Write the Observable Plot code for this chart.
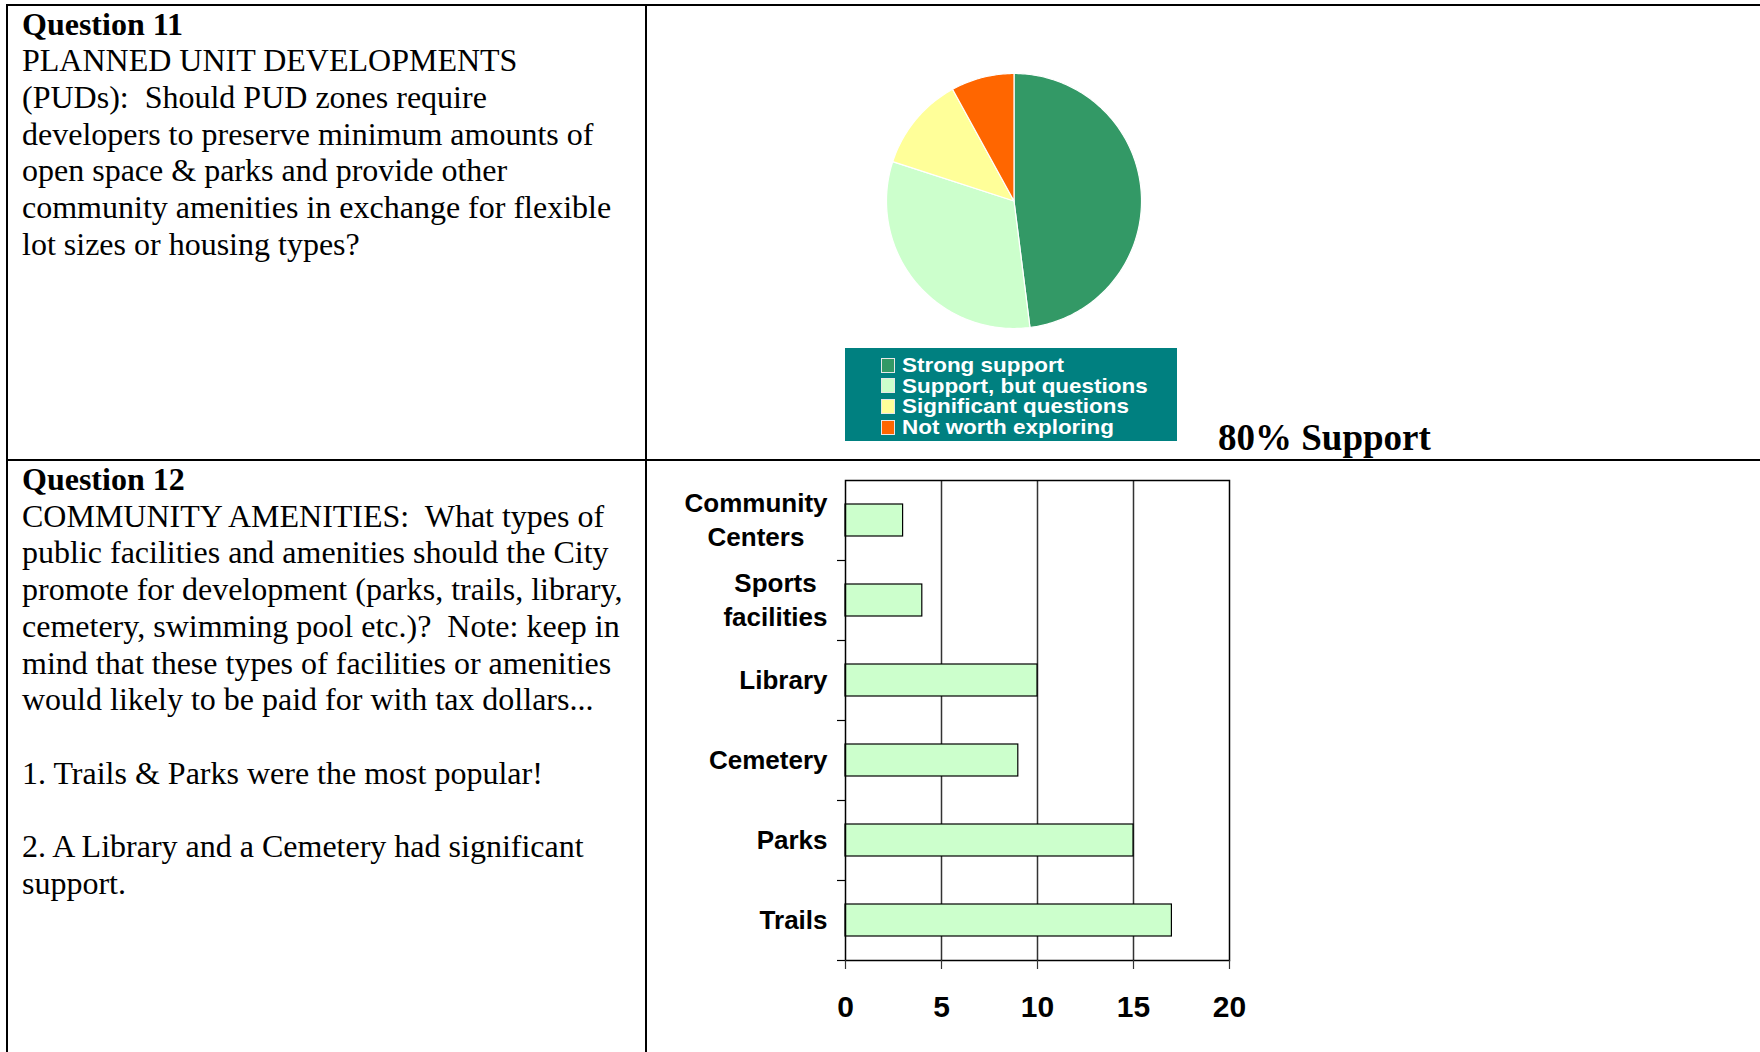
<!DOCTYPE html>
<html><head><meta charset="utf-8">
<script src="https://cdn.jsdelivr.net/npm/d3@7"></script>
<script src="https://cdn.jsdelivr.net/npm/@observablehq/plot@0.6"></script>
<style>
html,body{margin:0;padding:0;background:#fff;}
#page{position:relative;width:1760px;height:1052px;overflow:hidden;background:#fff;}
.rule{position:absolute;background:#000;}
.txt{position:absolute;left:22px;font-family:'Liberation Serif','Times New Roman',serif;font-size:32px;line-height:36.7px;white-space:pre;color:#000;}
.txt .h{font-weight:bold;}
#legend{position:absolute;left:845px;top:348px;width:332px;height:93px;background:#008080;box-sizing:border-box;padding-top:6.8px;padding-left:36px;}
#legend .row{display:flex;align-items:center;height:20.8px;font-family:'Liberation Sans',Arial,sans-serif;font-weight:bold;font-size:20.6px;line-height:20.8px;color:#fff;white-space:nowrap;}
#legend .sw{width:12px;height:13px;border:1px solid #e8e8e8;margin-right:7px;flex:none;}
#legend .lab{display:inline-block;transform:scaleX(1.09);transform-origin:left center;}
#note{position:absolute;left:1218px;top:419px;font-family:'Liberation Serif','Times New Roman',serif;font-weight:bold;font-size:37px;line-height:37px;white-space:nowrap;color:#000;}
.chart{position:absolute;}
</style></head><body><div id="page"></div>
<script>
// ---------- data ----------
const pieLabels = ["Strong support", "Support, but questions", "Significant questions", "Not worth exploring"];
const pieCounts = [12, 8, 3, 2];
const pieColors = ["#339966", "#CCFFCC", "#FFFF99", "#FF6600"];
const pieNote = "80% Support";

const barCategories = ["Community Centers", "Sports facilities", "Library", "Cemetery", "Parks", "Trails"];
const barTickLabels = ["Community\nCenters", "Sports\nfacilities", "Library", "Cemetery", "Parks", "Trails"];
const barValues = [3, 4, 10, 9, 15, 17];
const barTicks = [0, 5, 10, 15, 20];

const q11Title = "Question 11";
const q11Lines = [
  "PLANNED UNIT DEVELOPMENTS",
  "(PUDs):  Should PUD zones require",
  "developers to preserve minimum amounts of",
  "open space & parks and provide other",
  "community amenities in exchange for flexible",
  "lot sizes or housing types?"
];
const q12Title = "Question 12";
const q12Lines = [
  "COMMUNITY AMENITIES:  What types of",
  "public facilities and amenities should the City",
  "promote for development (parks, trails, library,",
  "cemetery, swimming pool etc.)?  Note: keep in",
  "mind that these types of facilities or amenities",
  "would likely to be paid for with tax dollars...",
  "",
  "1. Trails & Parks were the most popular!",
  "",
  "2. A Library and a Cemetery had significant",
  "support."
];

// ---------- layout ----------
const page = document.getElementById("page");
function rule(l, t, w, h) {
  const d = document.createElement("div");
  d.className = "rule";
  Object.assign(d.style, {left: l + "px", top: t + "px", width: w + "px", height: h + "px"});
  page.appendChild(d);
}
rule(6, 4, 1754, 2);
rule(6, 4, 2, 1048);
rule(645, 4, 2, 1048);
rule(6, 459, 1754, 2);

function textBlock(top, title, lines) {
  const d = document.createElement("div");
  d.className = "txt";
  d.style.top = top + "px";
  const h = document.createElement("span");
  h.className = "h";
  h.textContent = title;
  d.appendChild(h);
  d.appendChild(document.createTextNode("\n" + lines.join("\n")));
  page.appendChild(d);
}
textBlock(5.5, q11Title, q11Lines);
textBlock(461, q12Title, q12Lines);

// ---------- pie ----------
const arcs = d3.pie().sort(null).startAngle(0).endAngle(2 * Math.PI)(pieCounts);
const piePts = [];
arcs.forEach((a, i) => {
  const n = Math.max(2, Math.ceil((a.endAngle - a.startAngle) / (Math.PI / 180)));
  for (let k = 0; k <= n; k++) {
    const ang = a.startAngle + (a.endAngle - a.startAngle) * k / n;
    piePts.push({label: pieLabels[i], x: Math.sin(ang), y: Math.cos(ang)});
  }
});
const pie = Plot.plot({
  width: 280, height: 280, margin: 12.5,
  x: {domain: [-1, 1], axis: null},
  y: {domain: [-1, 1], axis: null},
  color: {domain: pieLabels, range: pieColors},
  style: {background: "transparent", overflow: "visible"},
  marks: [
    Plot.area(piePts, {x1: 0, y1: 0, x2: "x", y2: "y", z: "label", fill: "label", stroke: "#fff", strokeWidth: 1.2, curve: "linear"})
  ]
});
pie.classList.add("chart");
Object.assign(pie.style, {left: "874px", top: "61px"});
page.appendChild(pie);

// legend
const lg = document.createElement("div");
lg.id = "legend";
pieLabels.forEach((lab, i) => {
  const r = document.createElement("div");
  r.className = "row";
  const s = document.createElement("span");
  s.className = "sw";
  s.style.background = pieColors[i];
  r.appendChild(s);
  const t = document.createElement("span");
  t.className = "lab";
  t.textContent = lab;
  r.appendChild(t);
  lg.appendChild(r);
});
page.appendChild(lg);

const note = document.createElement("div");
note.id = "note";
note.textContent = pieNote;
page.appendChild(note);

// ---------- bar chart ----------
const barData = barCategories.map((c, i) => ({category: c, value: barValues[i]}));
const labelOf = new Map(barCategories.map((c, i) => [c, barTickLabels[i]]));
const bar = Plot.plot({
  width: 619, height: 568,
  marginLeft: 195, marginRight: 40, marginTop: 18, marginBottom: 70,
  x: {domain: [0, 20]},
  y: {domain: barCategories, paddingInner: 0.6, paddingOuter: 0.3},
  style: {fontFamily: "'Liberation Sans', Arial, sans-serif", background: "transparent", color: "#000", overflow: "visible"},
  marks: [
    Plot.gridX({ticks: [5, 10, 15], stroke: "#333", strokeOpacity: 1, strokeWidth: 1.5}),
    Plot.barX(barData, {x: "value", y: "category", fill: "#CCFFCC", stroke: "#000", strokeWidth: 1.2}),
    Plot.frame({stroke: "#000", strokeWidth: 1.5}),
    Plot.axisY({tickSize: 8, fill: "none", dy: 40, label: null, stroke: "#000", strokeWidth: 1.2}),
    Plot.axisY({tickSize: 0, tickPadding: 18, dy: -2.2, fontSize: 26, fontWeight: "bold", lineHeight: 1.3, label: null, tickFormat: d => labelOf.get(d)}),
    Plot.axisX({ticks: barTicks, tickSize: 9, tickPadding: 26, fontSize: 30, fontWeight: "bold", label: null, stroke: "#333", strokeWidth: 1.2})
  ]
});
bar.classList.add("chart");
Object.assign(bar.style, {left: "650px", top: "462px"});
page.appendChild(bar);

// centre multi-line category labels within their block (as in the original)
bar.querySelectorAll('g[aria-label="y-axis tick label"] text').forEach(t => {
  const sp = t.querySelectorAll("tspan");
  if (sp.length > 1) {
    const w = Math.max(...Array.from(sp, s => s.getComputedTextLength()));
    t.setAttribute("text-anchor", "middle");
    sp.forEach(s => s.setAttribute("x", -w / 2));
  }
});
</script>
</body></html>
